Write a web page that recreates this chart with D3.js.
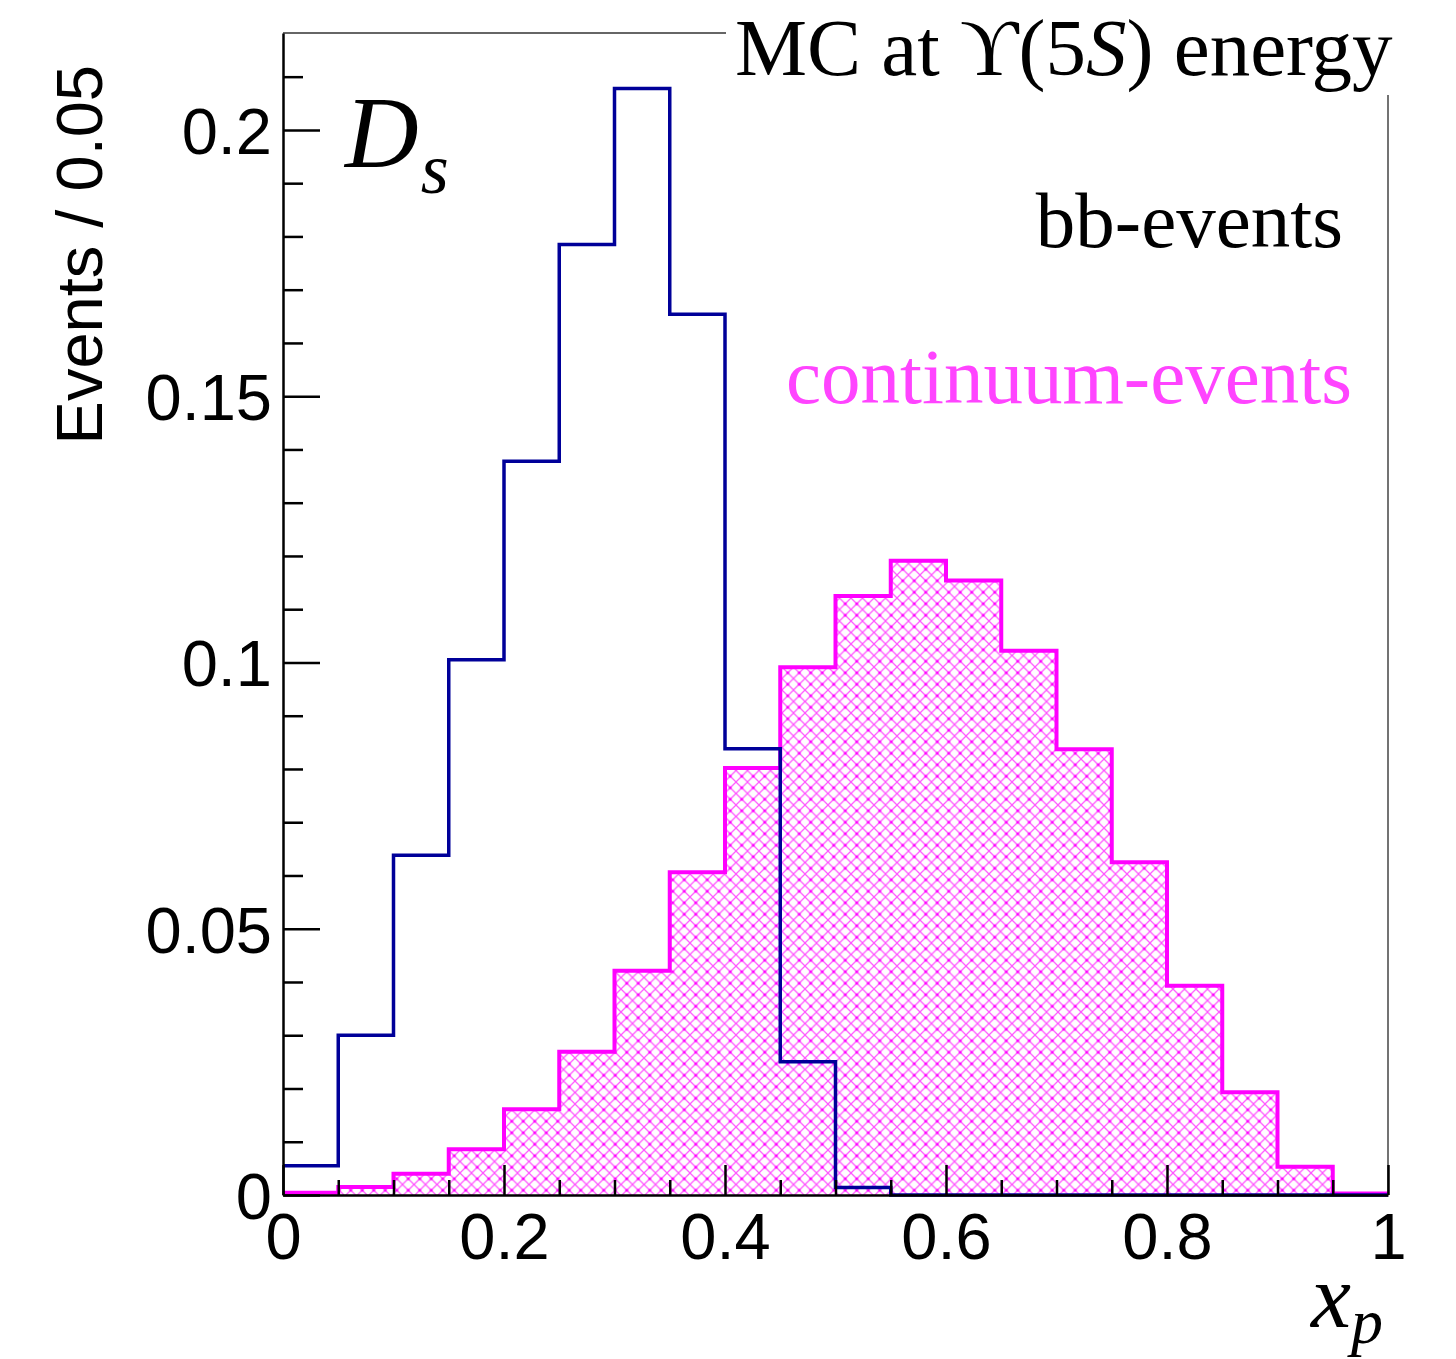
<!DOCTYPE html>
<html>
<head>
<meta charset="utf-8">
<script src="https://cdn.jsdelivr.net/npm/d3@7"></script>
<style>
  html, body { margin: 0; padding: 0; background: #fff; }
  svg { display: block; }
</style>
</head>
<body>
<svg id="chart" width="1456" height="1359"></svg>
<script>
// ---- data ----
const binEdges = [0,0.05,0.1,0.15,0.2,0.25,0.3,0.35,0.4,0.45,0.5,0.55,0.6,0.65,0.7,0.75,0.8,0.85,0.9,0.95,1.0];
const bbEvents = [0.0055,0.0300,0.0638,0.1005,0.1378,0.1785,0.2078,0.1654,0.0838,0.0250,0.0014,0,0,0,0,0,0,0,0,0];
const continuumEvents = [0.0004,0.0015,0.0040,0.0086,0.0161,0.0269,0.0421,0.0606,0.0802,0.0991,0.1125,0.1191,0.1154,0.1022,0.0837,0.0625,0.0393,0.0193,0.0053,0.0003];
const xTickValues = [0,0.2,0.4,0.6,0.8,1];
const xTickLabels = ["0","0.2","0.4","0.6","0.8","1"];
const yTickValues = [0,0.05,0.1,0.15,0.2];
const yTickLabels = ["0","0.05","0.1","0.15","0.2"];
const yMax = 0.2182;

(function(){
const svg = d3.select("#chart");
const pLeft = 283, pRight = 1388, pTop = 33, pBottom = 1195;
const x = d3.scaleLinear().domain([0,1]).range([pLeft,pRight]);
const y = d3.scaleLinear().domain([0,yMax]).range([pBottom,pTop]);

const blue = "#000099";
const mag = "#ff00ff";

// hatch pattern
const defs = svg.append("defs");
const hw = 11.5;
const pat = defs.append("pattern").attr("id","hatch").attr("patternUnits","userSpaceOnUse")
  .attr("width",hw).attr("height",hw);
pat.append("path").attr("d",`M0,0L${hw},${hw}M${hw},0L0,${hw}`)
  .attr("stroke","#ff55ff").attr("stroke-width",1.25).attr("fill","none");
pat.append("circle").attr("cx",hw/2).attr("cy",hw/2).attr("r",1.5).attr("fill",mag);

function stepPts(vals){
  const pts = vals.map((v,i)=>[binEdges[i],v]);
  pts.push([binEdges[binEdges.length-1], vals[vals.length-1]]);
  return pts;
}

const area = d3.area().x(d=>x(d[0])).y0(y(0)).y1(d=>y(d[1])).curve(d3.curveStepAfter);
const line = d3.line().x(d=>x(d[0])).y(d=>y(d[1])).curve(d3.curveStepAfter);
svg.append("path").datum(stepPts(continuumEvents)).attr("d",area).attr("fill","url(#hatch)");
svg.append("path").datum(stepPts(continuumEvents)).attr("d",line)
  .attr("fill","none").attr("stroke",mag).attr("stroke-width",4);

svg.append("path").datum(stepPts(bbEvents)).attr("d",line)
  .attr("fill","none").attr("stroke",blue).attr("stroke-width",3.5);

// frame lines (top, right)
svg.append("line").attr("x1",pLeft).attr("x2",pRight).attr("y1",pTop).attr("y2",pTop)
  .attr("stroke","#333").attr("stroke-width",1.5);
svg.append("line").attr("x1",pRight).attr("x2",pRight).attr("y1",pTop).attr("y2",pBottom)
  .attr("stroke","#444").attr("stroke-width",1.5);

const fontSans = "'Liberation Sans', Arial, Helvetica, sans-serif";
const fontSerif = "'Liberation Serif', 'Times New Roman', serif";

// x minor
const xMinor = binEdges.filter(v => !xTickValues.some(t=>Math.abs(t-v)<1e-9));
svg.append("g").attr("transform",`translate(0,${pBottom})`)
  .call(d3.axisBottom(x).tickValues(xMinor).tickSize(-15).tickSizeOuter(0).tickFormat(""))
  .call(g=>g.select(".domain").remove())
  .call(g=>g.selectAll("line").attr("stroke","#000").attr("stroke-width",2.5));
const xAx = svg.append("g").attr("transform",`translate(0,${pBottom})`)
  .call(d3.axisBottom(x).tickValues(xTickValues).tickSize(-30).tickSizeOuter(0).tickPadding(18)
    .tickFormat((d,i)=>xTickLabels[i]));
xAx.select(".domain").attr("stroke","#000").attr("stroke-width",2.5);
xAx.selectAll("line").attr("stroke","#000").attr("stroke-width",2.5);
xAx.selectAll("text").attr("font-family",fontSans).attr("font-size",65).attr("fill","#000");

// y minor
const yMinorVals = d3.range(0,22).map(i=>+(i*0.01).toFixed(2)).filter(v => !yTickValues.some(t=>Math.abs(t-v)<1e-9));
svg.append("g").attr("transform",`translate(${pLeft},0)`)
  .call(d3.axisLeft(y).tickValues(yMinorVals).tickSize(-20).tickSizeOuter(0).tickFormat(""))
  .call(g=>g.select(".domain").remove())
  .call(g=>g.selectAll("line").attr("stroke","#000").attr("stroke-width",2.5));
const yAx = svg.append("g").attr("transform",`translate(${pLeft},0)`)
  .call(d3.axisLeft(y).tickValues(yTickValues).tickSize(-37).tickSizeOuter(0).tickPadding(11)
    .tickFormat((d,i)=>yTickLabels[i]));
yAx.select(".domain").attr("stroke","#000").attr("stroke-width",2.5);
yAx.selectAll("line").attr("stroke","#000").attr("stroke-width",2.5);
yAx.selectAll("text").attr("font-family",fontSans).attr("font-size",65).attr("fill","#000").attr("dy","0.36em");

// y title
svg.append("text").attr("transform","translate(102,65) rotate(-90)")
  .attr("text-anchor","end").attr("font-family",fontSans).attr("font-size",65).attr("fill","#000")
  .text("Events / 0.05");

// x title
const xt = svg.append("text").attr("x",1311).attr("y",1327).attr("font-family",fontSerif)
  .attr("font-style","italic").attr("font-size",90).attr("fill","#000");
xt.append("tspan").text("x");
xt.append("tspan").attr("font-size",64).attr("dy",16).text("p");

// title box
svg.append("rect").attr("x",726).attr("y",0).attr("width",730).attr("height",95).attr("fill","#fff");
const title = svg.append("text").attr("x",735).attr("y",75).attr("font-family",fontSerif)
  .attr("font-size",81).attr("fill","#000");
title.append("tspan").text("MC at \u03D2(5");
title.append("tspan").attr("font-style","italic").text("S");
title.append("tspan").text(") energy");

// D_s label
const ds = svg.append("text").attr("x",345).attr("y",167).attr("font-family",fontSerif)
  .attr("font-style","italic").attr("font-size",102).attr("fill","#000");
ds.append("tspan").text("D");
ds.append("tspan").attr("font-size",72).attr("dy",26).attr("dx",2).text("s");

svg.append("text").attr("x",1343).attr("y",247).attr("text-anchor","end")
  .attr("font-family",fontSerif).attr("font-size",79).attr("fill","#000").text("bb-events");
svg.append("text").attr("x",1352).attr("y",403).attr("text-anchor","end")
  .attr("font-family",fontSerif).attr("font-size",79).attr("fill","#ff44ff").text("continuum-events");
})();
</script>
</body>
</html>
